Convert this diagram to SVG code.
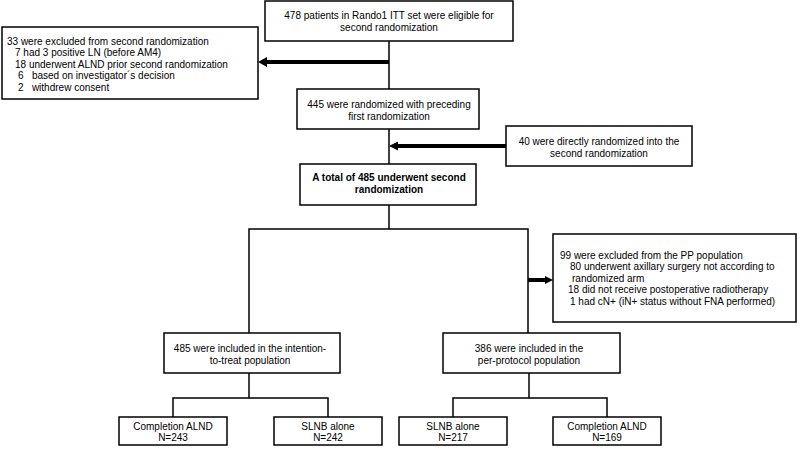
<svg xmlns="http://www.w3.org/2000/svg" width="800" height="449" viewBox="0 0 800 449">
<defs>
<style>
.box{fill:#fff;stroke:#000;stroke-width:1.5}
.ln{fill:none;stroke:#000;stroke-width:1.5}
.thick{fill:none;stroke:#000;stroke-width:4}
.ah{fill:#000;stroke:none}
text{font-family:"Liberation Sans",Arial,sans-serif;font-size:10px;fill:#000}
.c{text-anchor:middle}
.b{font-weight:bold}
</style>
</defs>
<rect width="800" height="449" fill="#fff"/>
<g id="connectors">
<line class="ln" x1="389" y1="41" x2="389" y2="89"/>
<line class="thick" x1="389" y1="62" x2="266" y2="62"/>
<polygon class="ah" points="258,62 267,57 267,67"/>
<line class="ln" x1="389" y1="129" x2="389" y2="164"/>
<line class="thick" x1="506" y1="146" x2="397" y2="146"/>
<polygon class="ah" points="389,146 398,141.5 398,150.5"/>
<line class="ln" x1="389" y1="205" x2="389" y2="229"/>
<polyline class="ln" points="249,333 249,229 528,229 528,333"/>
<line class="thick" x1="528" y1="280" x2="546" y2="280"/>
<polygon class="ah" points="553,280 545,276 545,284"/>
<line class="ln" x1="249" y1="373" x2="249" y2="398"/>
<polyline class="ln" points="173,417 173,398 328,398 328,417"/>
<line class="ln" x1="529" y1="373" x2="529" y2="398"/>
<polyline class="ln" points="453,417 453,398 607,398 607,417"/>
</g>
<g id="n-eligible">
<rect class="box" x="265" y="1" width="248" height="40"/>
<text class="c" x="389" y="19">478 patients in Rando1 ITT set were eligible for</text>
<text class="c" x="389" y="31">second randomization</text>
</g>
<g id="n-excluded1">
<rect class="box" x="2" y="27" width="256" height="72"/>
<text x="7" y="44.5">33 were excluded from second randomization</text>
<text x="15" y="56">7 had 3 positive LN (before AM4)</text>
<text x="15" y="67.5">18 underwent ALND prior second randomization</text>
<text x="18" y="79" xml:space="preserve">6   based on investigator´s decision</text>
<text x="18" y="90.5" xml:space="preserve">2   withdrew consent</text>
</g>
<g id="n-first">
<rect class="box" x="297" y="89" width="182" height="40"/>
<text class="c" x="389" y="107.5">445 were randomized with preceding</text>
<text class="c" x="389" y="119.5">first randomization</text>
</g>
<g id="n-direct">
<rect class="box" x="506" y="126" width="186" height="40"/>
<text class="c" x="599" y="145">40 were directly randomized into the</text>
<text class="c" x="599" y="157">second randomization</text>
</g>
<g id="n-total">
<rect class="box" x="300" y="164" width="176" height="41"/>
<text class="c b" x="389" y="181">A total of 485 underwent second</text>
<text class="c b" x="389" y="193">randomization</text>
</g>
<g id="n-ppexcl">
<rect class="box" x="553" y="234" width="243" height="88"/>
<text x="560" y="258.5">99 were excluded from the PP population</text>
<text x="570" y="270">80 underwent axillary surgery not according to</text>
<text x="572" y="281.5">randomized arm</text>
<text x="568" y="293">18 did not receive postoperative radiotherapy</text>
<text x="570" y="304.5">1 had cN+ (iN+ status without FNA performed)</text>
</g>
<g id="n-itt">
<rect class="box" x="164" y="333" width="176" height="40"/>
<text class="c" x="250" y="351.5">485 were included in the intention-</text>
<text class="c" x="250" y="364">to-treat population</text>
</g>
<g id="n-pp">
<rect class="box" x="443" y="333" width="177" height="40"/>
<text class="c" x="529" y="351.5">386 were included in the</text>
<text class="c" x="529" y="364">per-protocol population</text>
</g>
<g id="n-itt-alnd">
<rect class="box" x="119" y="417" width="108" height="28"/>
<text class="c" x="173" y="430">Completion ALND</text>
<text class="c" x="173" y="441">N=243</text>
</g>
<g id="n-itt-slnb">
<rect class="box" x="274" y="417" width="108" height="28"/>
<text class="c" x="328" y="430">SLNB alone</text>
<text class="c" x="328" y="441">N=242</text>
</g>
<g id="n-pp-slnb">
<rect class="box" x="399" y="417" width="108" height="28"/>
<text class="c" x="453" y="430">SLNB alone</text>
<text class="c" x="453" y="441">N=217</text>
</g>
<g id="n-pp-alnd">
<rect class="box" x="553" y="417" width="108" height="28"/>
<text class="c" x="607" y="430">Completion ALND</text>
<text class="c" x="607" y="441">N=169</text>
</g>
</svg>
